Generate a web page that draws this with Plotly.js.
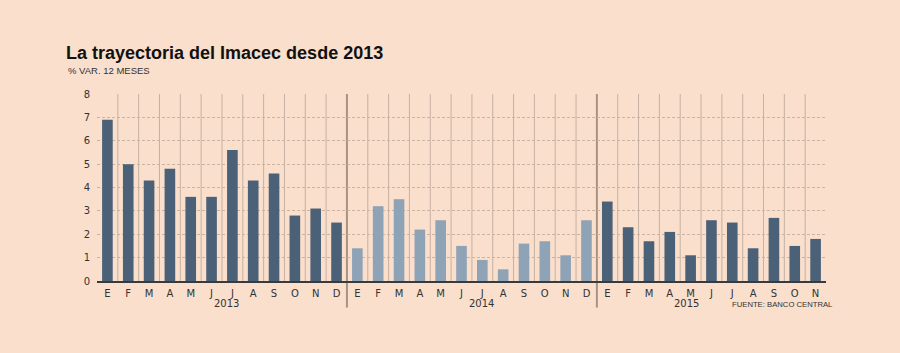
<!DOCTYPE html>
<html>
<head>
<meta charset="utf-8">
<script src="https://cdn.plot.ly/plotly-3.0.1.min.js"></script>
<style>html,body{margin:0;padding:0;background:#f9dfcc;}#chart{width:900px;height:353px;}</style>
</head>
<body>
<div id="chart"></div>
<script>
var monthLetters = ['E','F','M','A','M','J','J','A','S','O','N','D'];
var years = ['2013','2014','2015'];
var values2013 = [6.9, 5.0, 4.3, 4.8, 3.6, 3.6, 5.6, 4.3, 4.6, 2.8, 3.1, 2.5];
var values2014 = [1.4, 3.2, 3.5, 2.2, 2.6, 1.5, 0.9, 0.5, 1.6, 1.7, 1.1, 2.6];
var values2015 = [3.4, 2.3, 1.7, 2.1, 1.1, 2.6, 2.5, 1.4, 2.7, 1.5, 1.8];
var yearColors = ['#4a6178', '#8fa3b6', '#4a6178'];
var yearLabelPos = [5.72, 17.98, 27.8];

var series = [values2013, values2014, values2015];
var traces = [];
var tickvals = [], ticktext = [];
var offset = 0;
var boundaries = [];
series.forEach(function(vals, k){
  var xs = vals.map(function(_, i){ return offset + i; });
  xs.forEach(function(x, i){ tickvals.push(x); ticktext.push(monthLetters[i]); });
  traces.push({type:'bar', x: xs, y: vals, marker:{color: yearColors[k]}, hoverinfo:'y', name: years[k]});
  offset += vals.length;
  boundaries.push(offset - 0.5);
});
var n = offset;

var shapes = [];
for (var i = 0; i < n - 1; i++) {
  var b = i + 0.5;
  if (boundaries.indexOf(b) >= 0) {
    shapes.push({type:'line', layer:'below', xref:'x', yref:'paper', x0:b, x1:b, y0:-0.142, y1:1, line:{color:'#a89383', width:2}});
  } else {
    shapes.push({type:'line', layer:'below', xref:'x', yref:'y', x0:b, x1:b, y0:0, y1:8, line:{color:'#c6b1a2', width:1}});
  }
}

var annotations = [
  {text:'% VAR. 12 MESES', xref:'paper', yref:'paper', x:-0.0425, y:1.125, xanchor:'left', yanchor:'middle', showarrow:false, font:{family:'Liberation Sans, Arial, sans-serif', size:9.5, color:'#333'}},
  {text:'FUENTE: BANCO CENTRAL', xref:'paper', yref:'paper', x:1.012, y:-0.125, xanchor:'right', yanchor:'middle', showarrow:false, font:{family:'Liberation Sans, Arial, sans-serif', size:7.7, color:'#333'}}
];
years.forEach(function(yr, k){
  annotations.push({text: yr, xref:'x', yref:'paper', x: yearLabelPos[k], y:-0.12, xanchor:'center', yanchor:'middle', showarrow:false, font:{family:'DejaVu Sans, sans-serif', size:10, color:'#333'}});
});

var layout = {
  width: 900, height: 353,
  paper_bgcolor: '#f9dfcc', plot_bgcolor: '#f9dfcc',
  margin: {l:97, r:74, t:94, b:72, pad:0},
  showlegend: false,
  bargap: 0.49,
  title: {text:'<b>La trayectoria del Imacec desde 2013</b>', xref:'container', yref:'container', x:66/900, xanchor:'left', y:1-53/353, yanchor:'middle', font:{family:'Liberation Sans, Arial, sans-serif', size:18, color:'#111'}},
  xaxis: {range:[-0.5, n-0.5], tickvals:tickvals, ticktext:ticktext, showgrid:false, zeroline:false, showline:true, linecolor:'#3a3a3a', linewidth:1.5, ticks:'', ticklabelstandoff:2, tickfont:{family:'DejaVu Sans, sans-serif', size:10, color:'#333'}, fixedrange:true},
  yaxis: {range:[0, 8], dtick:1, showgrid:true, gridcolor:'#c9b3a3', griddash:'3px,2px', gridwidth:1, zeroline:false, showline:false, ticks:'', ticklabelstandoff:6, tickfont:{family:'DejaVu Sans, sans-serif', size:10, color:'#333'}, fixedrange:true},
  shapes: shapes,
  annotations: annotations
};
Plotly.newPlot('chart', traces, layout, {displayModeBar:false, staticPlot:true});
</script>
</body>
</html>
